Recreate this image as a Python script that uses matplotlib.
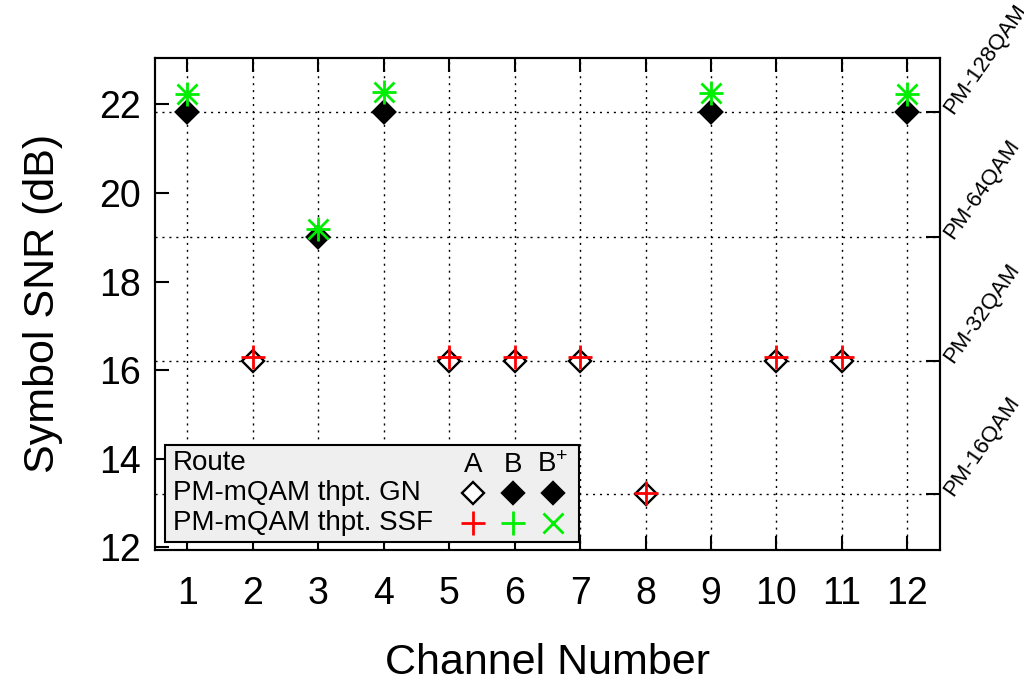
import numpy as np
import matplotlib
matplotlib.use("Agg")
import matplotlib.pyplot as plt
from matplotlib.patches import Rectangle

# -*- data -*-
channels = np.arange(1, 13)
chan_a = [2, 5, 6, 7, 8, 10, 11]
gn_a = [16.2, 16.2, 16.2, 16.2, 13.2, 16.2, 16.2]
ssf_a = [16.31, 16.31, 16.31, 16.31, 13.24, 16.31, 16.31]
chan_b = [1, 3, 4, 9, 12]
gn_b = [21.84, 19.0, 21.84, 21.84, 21.84]
ssf_b = [22.23, 19.2, 22.29, 22.27, 22.23]
chan_bp = [1, 3, 4, 9, 12]
gn_bp = [21.84, 19.0, 21.84, 21.84, 21.84]
ssf_bp = [22.23, 19.2, 22.29, 22.27, 22.23]
qam_levels = [13.2, 16.2, 19.0, 21.84]
qam_labels = ["PM-16QAM", "PM-32QAM", "PM-64QAM", "PM-128QAM"]
y_ticks = [12, 14, 16, 18, 20, 22]

plt.rcParams['font.family'] = ['Liberation Sans', 'DejaVu Sans']
plt.rcParams['mathtext.fontset'] = 'custom'
plt.rcParams['mathtext.rm'] = 'Liberation Sans'
plt.rcParams['mathtext.it'] = 'Liberation Sans'

green = '#00ee00'
red = '#ff0000'

fig = plt.figure(figsize=(10.24, 6.82), dpi=100)
ax = fig.add_axes([0.151, 0.194, 0.767, 0.721])

# grid lines
for c in channels:
    ax.axvline(c, color='black', lw=1.0, ls=(0, (1.5, 3.5)), zorder=1)
for q in qam_levels:
    ax.axhline(q, color='black', lw=1.0, ls=(0, (1.5, 3.5)), zorder=1)

# GN diamonds
ax.plot(chan_a, gn_a, ls='none', marker='D', ms=11, mfc='white', mec='black', mew=1.7, zorder=3)
ax.plot(chan_b, gn_b, ls='none', marker='D', ms=11, mfc='black', mec='black', mew=1.7, zorder=3)
ax.plot(chan_bp, gn_bp, ls='none', marker='D', ms=11, mfc='black', mec='black', mew=1.7, zorder=3)
# SSF
ax.plot(chan_a, ssf_a, ls='none', marker='+', ms=17, mec=red, mew=2.0, zorder=4)
ax.plot(chan_b, ssf_b, ls='none', marker='+', ms=17, mec=green, mew=2.0, zorder=4)
ax.plot(chan_bp, ssf_bp, ls='none', marker='x', ms=14, mec=green, mew=2.0, zorder=4)

ax.set_xlim(0.5, 12.5)
ax.set_ylim(11.95, 23.05)
ax.set_xticks(channels)
ax.set_yticks(y_ticks)
ax.tick_params(axis='x', which='both', direction='in', length=10, width=1.5,
               top=True, labelsize=27, pad=19)
ax.tick_params(axis='y', which='both', direction='in', length=10, width=1.5,
               right=False, labelsize=27, pad=10)
for s in ax.spines.values():
    s.set_linewidth(1.5)
ax.set_xlabel('Channel Number', fontsize=31, labelpad=22)
ax.set_ylabel('Symbol SNR (dB)', fontsize=31, labelpad=26)

# right axis with modulation formats
ax2 = ax.twinx()
ax2.set_ylim(ax.get_ylim())
ax2.set_yticks(qam_levels)
ax2.set_yticklabels(qam_labels, rotation=55, rotation_mode='anchor',
                    ha='left', va='center', fontsize=16)
ax2.tick_params(axis='y', direction='in', length=10, width=1.5, pad=6)
for s in ax2.spines.values():
    s.set_linewidth(1.5)

# key box
ax.add_patch(Rectangle((0.0127, 0.016), 0.528, 0.197, transform=ax.transAxes,
                       facecolor='#efefef', edgecolor='black', lw=1.5, zorder=5))
rows_y = [0.177, 0.116, 0.055]
cols_x = [0.405, 0.456, 0.507]
ax.text(0.023, rows_y[0], 'Route', transform=ax.transAxes, fontsize=20, va='center', zorder=6)
ax.text(0.023, rows_y[1], 'PM-mQAM thpt. GN', transform=ax.transAxes, fontsize=20, va='center', zorder=6)
ax.text(0.023, rows_y[2], 'PM-mQAM thpt. SSF', transform=ax.transAxes, fontsize=20, va='center', zorder=6)
for x, lab in zip(cols_x, ['A', 'B', r'B$^{+}$']):
    ax.text(x, rows_y[0] - 0.005, lab, transform=ax.transAxes, fontsize=20,
            ha='center', va='center', zorder=6)
key_gn = [('white', 'D'), ('black', 'D'), ('black', 'D')]
for x, (fc, m) in zip(cols_x, key_gn):
    ax.plot([x], [rows_y[1]], transform=ax.transAxes, marker=m, ms=11, mfc=fc,
            mec='black', mew=1.7, ls='none', zorder=6, clip_on=False)
key_ssf = [(red, '+', 17), (green, '+', 17), (green, 'x', 14)]
for x, (col, m, ms) in zip(cols_x, key_ssf):
    ax.plot([x], [rows_y[2]], transform=ax.transAxes, marker=m, ms=ms,
            mec=col, mew=2.0, ls='none', zorder=6, clip_on=False)

fig.savefig('out.png', dpi=100)
